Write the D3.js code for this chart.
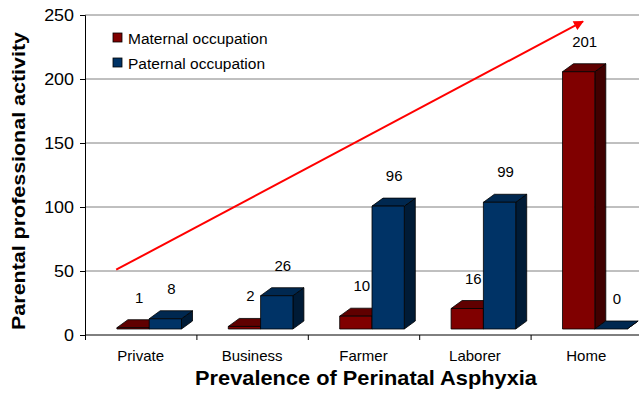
<!DOCTYPE html>
<html lang="en">
<head>
    <meta charset="UTF-8">
    <title>Prevalence of Perinatal Asphyxia</title>
    <script src="https://d3js.org/d3.v7.min.js"></script>
    <style>
        body { margin: 0; background: #fff; }
        svg { display: block; font-family: Arial, "Liberation Sans", sans-serif; }
    </style>
</head>
<body>
    <svg id="chart" width="639" height="400"></svg>

    <script>
        // Data
        const categories = ["Private", "Business", "Farmer", "Laborer", "Home"];
        const maternal = [1, 2, 10, 16, 201];
        const paternal = [8, 26, 96, 99, 0];
        const seriesNames = ["Maternal occupation", "Paternal occupation"];
        const yTicks = [0, 50, 100, 150, 200, 250];
        // trend arrow, in (category index, value) units
        const arrowFrom = [0.28, 51];
        const arrowTo = [4.47, 245];

        const colors = [
            {front: "#800000", top: "#600000", side: "#400000"},
            {front: "#003366", top: "#002850", side: "#001b36"}
        ];

        const W = 639, H = 400;
        const plotLeft = 85, plotRight = 642, plotTop = 15, plotBottom = 335;
        const dx = 11, dy = 8;      // 3d depth
        const lift = 6;             // bars sit a little behind the front axis

        const svg = d3.select("#chart");

        const x = d3.scaleBand().domain(categories).range([plotLeft, plotRight]);
        const xLin = d3.scaleLinear().domain([0, categories.length]).range([plotLeft, plotRight]);
        const y = d3.scaleLinear().domain([0, 250]).range([plotBottom, plotTop]);
        const barW = x.bandwidth() * 0.29;
        const shift = 8.5;

        // gridlines
        svg.append("g")
            .selectAll("line")
            .data(yTicks.filter(d => d > 0))
            .enter().append("line")
            .attr("x1", plotLeft).attr("x2", W)
            .attr("y1", d => y(d)).attr("y2", d => y(d))
            .attr("stroke", "#808080").attr("stroke-width", 1);

        // y axis
        const yAxis = svg.append("g")
            .attr("transform", `translate(${plotLeft},0)`)
            .call(d3.axisLeft(y).tickValues(yTicks).tickSize(5).tickPadding(6));
        yAxis.select(".domain").attr("stroke", "#000");
        yAxis.selectAll("text")
            .attr("font-size", 16)
            .attr("font-family", "Arial, 'Liberation Sans', sans-serif")
            .attr("fill", "#000")
            .attr("transform", "scale(1.12,1)")
            .attr("x", -11 / 1.12);

        // x axis
        const xAxis = svg.append("g")
            .attr("transform", `translate(0,${plotBottom})`)
            .call(d3.axisBottom(xLin).tickValues(d3.range(categories.length + 1)).tickSize(5).tickFormat(""));
        xAxis.select(".domain").attr("d", `M${plotLeft},0H${W}`).attr("stroke", "#000");

        svg.append("g")
            .selectAll("text")
            .data(categories)
            .enter().append("text")
            .attr("x", d => x(d) + x.bandwidth() / 2)
            .attr("y", 361)
            .attr("text-anchor", "middle")
            .attr("font-size", 15)
            .text(d => d);

        // 3d bars
        const bars = [];
        categories.forEach((c, i) => {
            const cx = x(c) + x.bandwidth() / 2 + shift;
            [maternal[i], paternal[i]].forEach((v, s) => {
                const x0 = cx - barW + s * barW;
                bars.push({x0: x0, x1: x0 + barW, v: v, s: s});
            });
        });

        const g = svg.append("g").attr("stroke", "#000").attr("stroke-width", 0.8).attr("stroke-linejoin", "round");
        bars.forEach(b => {
            const yt = y(b.v) - lift, yb = y(0) - lift;
            const col = colors[b.s];
            // side
            g.append("path")
                .attr("d", `M${b.x1},${yt}L${b.x1 + dx},${yt - dy}L${b.x1 + dx},${yb - dy}L${b.x1},${yb}Z`)
                .attr("fill", col.side);
            // top
            g.append("path")
                .attr("d", `M${b.x0},${yt}L${b.x0 + dx},${yt - dy}L${b.x1 + dx},${yt - dy}L${b.x1},${yt}Z`)
                .attr("fill", col.top);
            // front
            if (b.v > 0) {
                g.append("rect")
                    .attr("x", b.x0).attr("y", yt)
                    .attr("width", b.x1 - b.x0).attr("height", yb - yt)
                    .attr("fill", col.front);
            }
        });

        // value labels
        svg.append("g")
            .selectAll("text")
            .data(bars)
            .enter().append("text")
            .attr("x", d => (d.x0 + d.x1) / 2 + 6)
            .attr("y", d => y(d.v) - lift - 25)
            .attr("text-anchor", "middle")
            .attr("font-size", 15)
            .text(d => d.v);

        // arrow
        const defs = svg.append("defs");
        defs.append("marker")
            .attr("id", "head")
            .attr("viewBox", "0 0 10 10")
            .attr("refX", 9).attr("refY", 5)
            .attr("markerWidth", 6).attr("markerHeight", 5)
            .attr("markerUnits", "strokeWidth")
            .attr("orient", "auto")
            .append("path").attr("d", "M0,0L10,5L0,10Z").attr("fill", "#ff0000");

        svg.append("line")
            .attr("x1", xLin(arrowFrom[0])).attr("y1", y(arrowFrom[1]))
            .attr("x2", xLin(arrowTo[0])).attr("y2", y(arrowTo[1]))
            .attr("stroke", "#ff0000").attr("stroke-width", 2)
            .attr("marker-end", "url(#head)");

        // legend
        const legend = svg.append("g").attr("transform", "translate(113,33)");
        seriesNames.forEach((n, i) => {
            legend.append("rect")
                .attr("x", 0).attr("y", i * 25)
                .attr("width", 9).attr("height", 9)
                .attr("fill", colors[i].front)
                .attr("stroke", "#000").attr("stroke-width", 0.8);
            legend.append("text")
                .attr("x", 15).attr("y", i * 25 + 11)
                .attr("font-size", 15.5)
                .text(n);
        });

        // axis titles
        svg.append("text")
            .attr("transform", "translate(366,385) scale(1.09,1)")
            .attr("text-anchor", "middle")
            .attr("font-size", 20).attr("font-weight", "bold")
            .text("Prevalence of Perinatal Asphyxia");

        svg.append("text")
            .attr("transform", "translate(25,181) rotate(-90) scale(1.16,1)")
            .attr("text-anchor", "middle")
            .attr("font-size", 18.5).attr("font-weight", "bold")
            .text("Parental professional activity");
    </script>
</body>
</html>
